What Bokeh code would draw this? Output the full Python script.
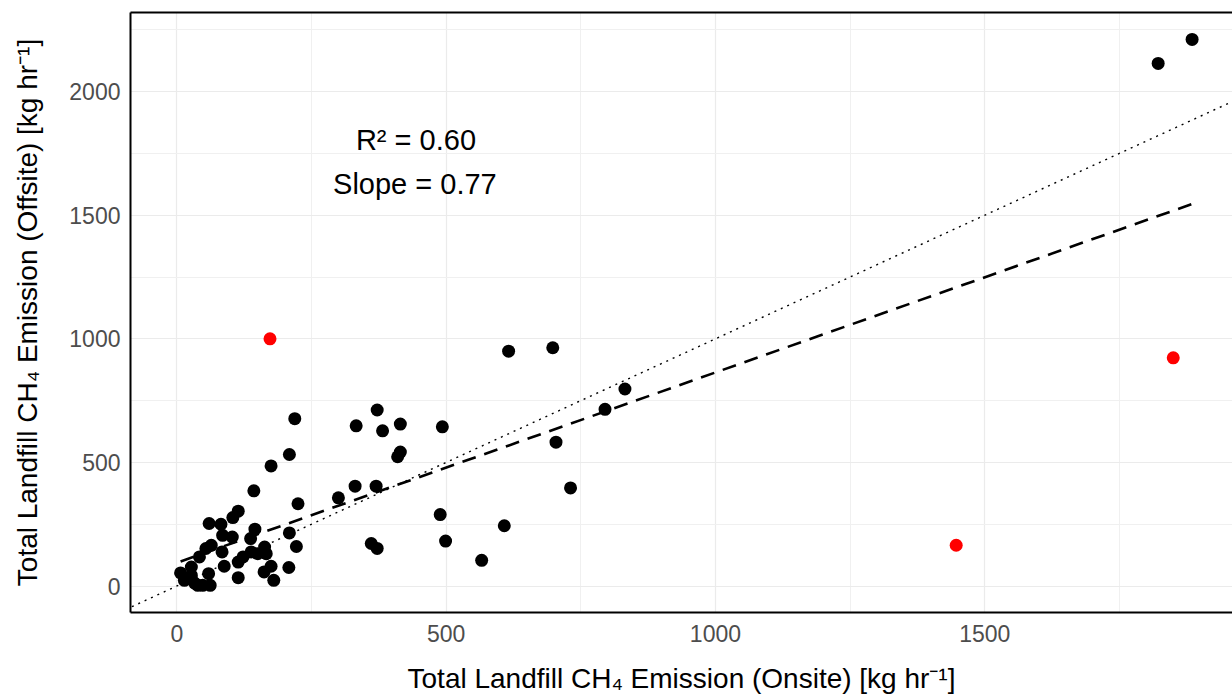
from bokeh.plotting import figure
from bokeh.models import Range1d, SingleIntervalTicker, LinearAxis, Slope, Label
from bokeh.embed import file_html
from bokeh.resources import INLINE

# ---- data ----
onsite_black = [1822, 1885,
                616, 698, 832, 795, 704, 731, 608, 566,
                372, 333, 382, 415, 493, 410, 415, 331, 370, 300, 489, 499, 361, 372,
                225, 219, 209, 175, 143, 222,
                114, 104, 60, 82, 85, 103, 145, 137, 209, 163, 64, 54, 84, 42, 123,
                138, 150, 166, 114, 88, 175, 162, 208, 114, 180, 27, 7, 14, 27, 39,
                59, 62, 48, 33]
offsite_black = [2114, 2211,
                 950, 964, 797, 715, 582, 397, 244, 104,
                 712, 648, 628, 655, 644, 523, 542, 404, 404, 357, 289, 182, 172, 152,
                 333, 677, 532, 486, 385, 160,
                 303, 277, 253, 250, 205, 198, 230, 192, 215, 158, 165, 152, 138, 118, 118,
                 138, 131, 131, 97, 80, 80, 57, 75, 34, 23, 77, 53, 23, 43, 3,
                 50, 3, 3, 12]
onsite_red = [173, 1850, 1447]
offsite_red = [1000, 923, 165]

fit_slope = 0.77
fit_intercept = 94
r2_text = "R² = 0.60"
slope_text = "Slope = 0.77"
x_label = "Total Landfill CH₄ Emission (Onsite) [kg hr⁻¹]"
y_label = "Total Landfill CH₄ Emission (Offsite) [kg hr⁻¹]"

FONT = "Liberation Sans"

p = figure(width=1232, height=696,
           x_range=Range1d(-86, 1960), y_range=Range1d(-107, 2320),
           output_backend="svg", toolbar_location=None,
           min_border_left=130, min_border_top=12, min_border_bottom=84, min_border_right=0)
p.outline_line_color = None
p.background_fill_color = "white"

p.xaxis.ticker = SingleIntervalTicker(interval=500, num_minor_ticks=2)
p.yaxis.ticker = SingleIntervalTicker(interval=500, num_minor_ticks=2)

for ax in (p.xaxis[0], p.yaxis[0]):
    ax.axis_line_color = "black"
    ax.axis_line_width = 2
    ax.major_tick_line_color = None
    ax.minor_tick_line_color = None
    ax.major_label_text_font = FONT
    ax.major_label_text_font_size = "23px"
    ax.major_label_text_color = "#4D4D4D"
    ax.axis_label_text_font = FONT
    ax.axis_label_text_font_size = "28px"
    ax.axis_label_text_font_style = "normal"
    ax.axis_label_text_color = "black"

p.xaxis.axis_label = x_label
p.yaxis.axis_label = y_label
p.xaxis.major_label_standoff = 6
p.yaxis.major_label_standoff = 4
p.xaxis.axis_label_standoff = 18
p.yaxis.axis_label_standoff = 23

top = LinearAxis(ticker=SingleIntervalTicker(interval=500), axis_line_color="black", axis_line_width=2,
                 major_tick_line_color=None, minor_tick_line_color=None,
                 major_label_text_font_size="0px", major_label_standoff=0, major_label_text_alpha=0)
p.add_layout(top, "above")

for g in (p.xgrid[0], p.ygrid[0]):
    g.grid_line_color = "#EBEBEB"
    g.grid_line_width = 1.2
    g.minor_grid_line_color = "#F0F0F0"
    g.minor_grid_line_width = 1

# 1:1 line
p.add_layout(Slope(gradient=1, y_intercept=0, line_color="black", line_width=1.4, line_dash="2 5"))

# regression line across range of black points
fx = [min(onsite_black), max(onsite_black)]
fy = [fit_slope * v + fit_intercept for v in fx]
p.line(fx, fy, line_color="black", line_width=2.6, line_dash="14 9")

p.scatter(onsite_black, offsite_black, size=13, color="black", line_color=None)
p.scatter(onsite_red, offsite_red, size=13, color="#FF0000", line_color=None)

p.add_layout(Label(x=444, y=1806, text=r2_text, text_align="center", text_baseline="middle",
                   text_font=FONT, text_font_size="29px", text_color="black"))
p.add_layout(Label(x=442, y=1627, text=slope_text, text_align="center", text_baseline="middle",
                   text_font=FONT, text_font_size="29px", text_color="black"))

open("out.html", "w").write(file_html(p, INLINE))
